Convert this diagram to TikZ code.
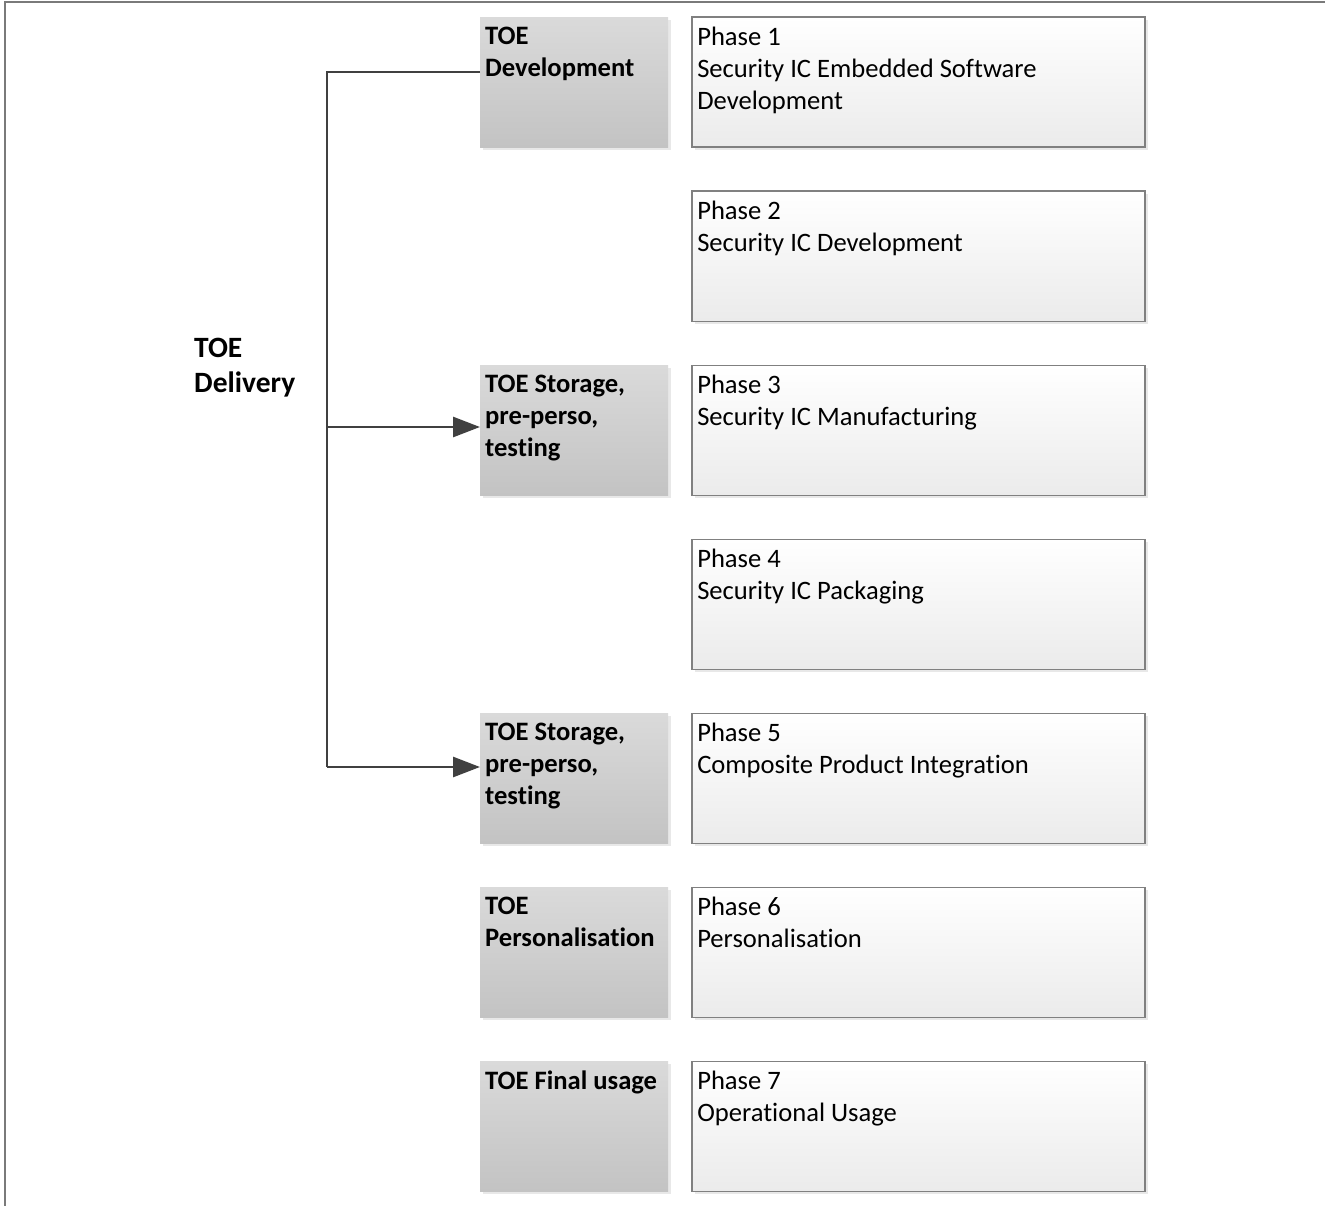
\documentclass[tikz,border=0pt]{standalone}
\usepackage{fontspec}
\setmainfont[Ligatures=NoCommon]{Carlito}
\usetikzlibrary{shadows,arrows.meta}
\definecolor{stgtop}{HTML}{DADADA}
\definecolor{stgbot}{HTML}{C3C3C3}
\definecolor{phbot}{HTML}{EBEBEB}
\definecolor{phborder}{HTML}{808080}
\definecolor{connclr}{HTML}{404040}
\definecolor{frameclr}{HTML}{7A7A7A}
\newcommand{\stgtxt}[1]{\parbox[t][110pt][t]{178pt}{\raggedright #1}}
\newcommand{\phtxt}[1]{\parbox[t][110pt][t]{442pt}{\raggedright #1}}
\tikzset{
  boxshadow/.style={general shadow={fill=black!9, shadow xshift=3pt, shadow yshift=-3pt}},
  stagebox/.style={anchor=north west, inner xsep=5pt, inner ysep=10pt,
    top color=stgtop, bottom color=stgbot, boxshadow,
    font=\fontsize{26.6}{32}\selectfont\bfseries},
  phasebox/.style={anchor=north west, inner xsep=5.5pt, inner ysep=10pt,
    top color=white, bottom color=phbot, draw=phborder, line width=1.5pt, boxshadow,
    font=\fontsize{26.6}{32}\selectfont},
  conn/.style={draw=connclr, line width=2.8pt},
  connarrow/.style={conn, -{Triangle[length=27pt,width=20pt]}},
  framestroke/.style={draw=frameclr, line width=2pt},
}
\begin{document}
\begin{tikzpicture}[x=1pt,y=-1pt]
\useasboundingbox (0,0) rectangle (1325,1206);
% frame lines
\draw[framestroke] (5,1206) -- (5,2) -- (1325,2);
% stage boxes
\node[stagebox] (dev) at (480,17) {\stgtxt{TOE\\Development}};
\node[stagebox] (sto1) at (480,365) {\stgtxt{TOE Storage,\\pre-perso,\\testing}};
\node[stagebox] (sto2) at (480,713) {\stgtxt{TOE Storage,\\pre-perso,\\testing}};
\node[stagebox] (pers) at (480,887) {\stgtxt{TOE\\Personalisation}};
\node[stagebox] (fin) at (480,1061) {\stgtxt{TOE Final usage}};
% phase boxes
\node[phasebox] (p1) at (691,16.5) {\phtxt{Phase 1\\Security IC Embedded Software\\Development}};
\node[phasebox] (p2) at (691,190.5) {\phtxt{Phase 2\\Security IC Development}};
\node[phasebox] (p3) at (691,364.5) {\phtxt{Phase 3\\Security IC Manufacturing}};
\node[phasebox] (p4) at (691,538.5) {\phtxt{Phase 4\\Security IC Packaging}};
\node[phasebox] (p5) at (691,712.5) {\phtxt{Phase 5\\Composite Product Integration}};
\node[phasebox] (p6) at (691,886.5) {\phtxt{Phase 6\\Personalisation}};
\node[phasebox] (p7) at (691,1060.5) {\phtxt{Phase 7\\Operational Usage}};
% delivery label
\node[anchor=north west, inner sep=0pt, align=left, font=\fontsize{29.5}{35}\selectfont\bfseries] (deliv) at (194,338) {TOE\\Delivery};
% connectors
\coordinate (j1) at (327,72);
\coordinate (j2) at (327,427);
\coordinate (j3) at (327,767);
\draw[conn] (j1 -| dev.west) -- (j1) -- (j3);
\draw[connarrow] (j2) -- (j2 -| sto1.west);
\draw[connarrow] (j3) -- (j3 -| sto2.west);
\end{tikzpicture}
\end{document}
